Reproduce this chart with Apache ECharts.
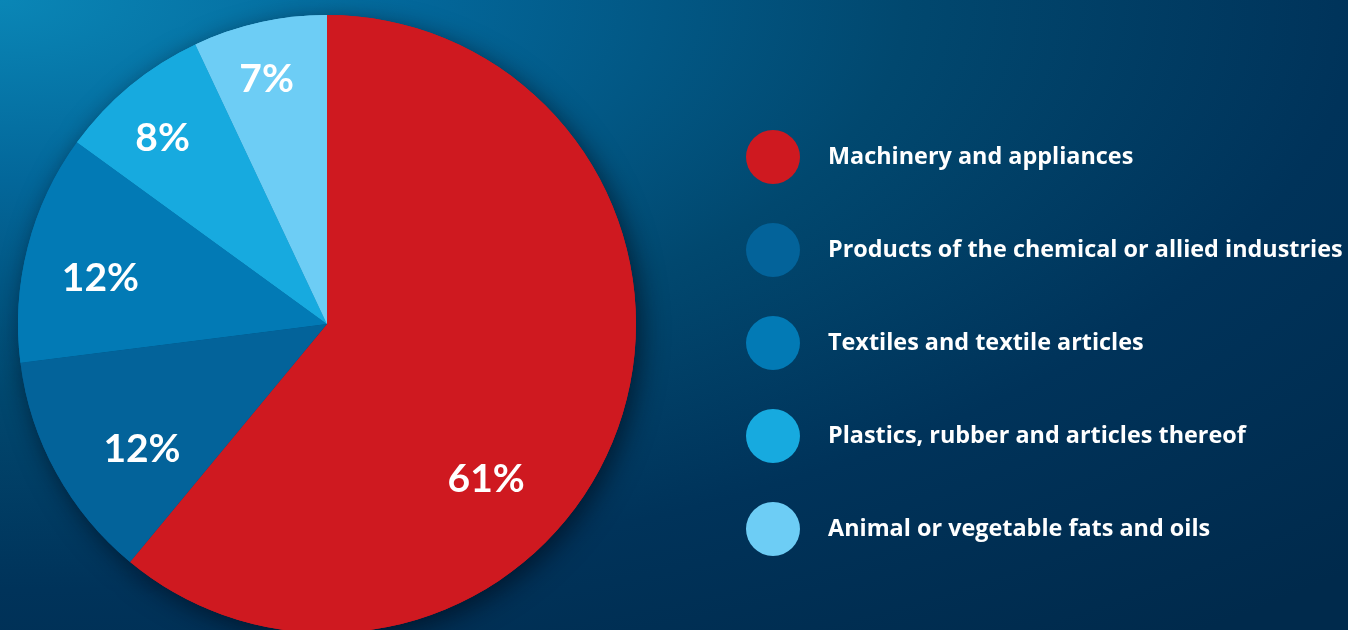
<!DOCTYPE html>
<html>
<head>
<meta charset="utf-8">
<script src="https://cdn.jsdelivr.net/npm/echarts@6/dist/echarts.min.js"></script>
<style>
  html, body { margin: 0; padding: 0; }
  #chart {
    width: 1348px; height: 630px;
    background: radial-gradient(ellipse 140% 130% at 0% 0%, #0a86b6 0%, #03679a 22%, #01486f 48%, #00335a 72%, #002a4c 100%);
  }
</style>
</head>
<body>
<div id="chart"></div>
<script>
// Share of exports by product group (%)
const categories = [
  'Machinery and appliances',
  'Products of the chemical or allied industries',
  'Textiles and textile articles',
  'Plastics, rubber and articles thereof',
  'Animal or vegetable fats and oils'
];
const shares = [61, 12, 12, 8, 7];
const colors = ['#cf1920', '#03639a', '#027ab5', '#17aadf', '#6dcdf5'];

// Nudges that push each percentage label toward the rim
const labelOffsets = [[11, 102], [-47, 50], [-74, -6], [-64, -64], [-26, -91]];

const chart = echarts.init(document.getElementById('chart'), null, { renderer: 'canvas' });

const pieBase = {
  type: 'pie',
  center: [327, 324],
  radius: 309,
  startAngle: 90,
  clockwise: true,
  silent: true,
  labelLine: { show: false }
};

chart.setOption({
  backgroundColor: 'transparent',
  animation: false,
  color: colors,
  legend: {
    orient: 'vertical',
    left: 741,
    top: 125,
    icon: 'circle',
    itemWidth: 54,
    itemHeight: 54,
    itemGap: 39,
    selectedMode: false,
    data: categories,
    textStyle: {
      color: '#ffffff',
      fontFamily: 'Open Sans',
      fontWeight: 'bold',
      fontSize: 23.4,
      padding: [0, 0, 0, 23]
    }
  },
  series: [
    // soft drop shadow under the whole disc
    Object.assign({}, pieBase, {
      name: 'shadow',
      z: 1,
      itemStyle: {
        borderWidth: 0,
        shadowBlur: 26,
        shadowColor: 'rgba(0, 10, 25, 0.65)',
        shadowOffsetX: 5,
        shadowOffsetY: 7
      },
      label: { show: false },
      data: categories.map((name, i) => ({ name: name, value: shares[i] }))
    }),
    // the slices and their percentage labels
    Object.assign({}, pieBase, {
      name: 'share',
      z: 2,
      itemStyle: { borderWidth: 0 },
      label: {
        show: true,
        position: 'inside',
        formatter: '{c}%',
        color: '#ffffff',
        fontFamily: 'Lato',
        fontWeight: 'bold',
        fontSize: 39
      },
      data: categories.map((name, i) => ({
        name: name,
        value: shares[i],
        label: { offset: labelOffsets[i] }
      }))
    })
  ]
});
</script>
</body>
</html>
